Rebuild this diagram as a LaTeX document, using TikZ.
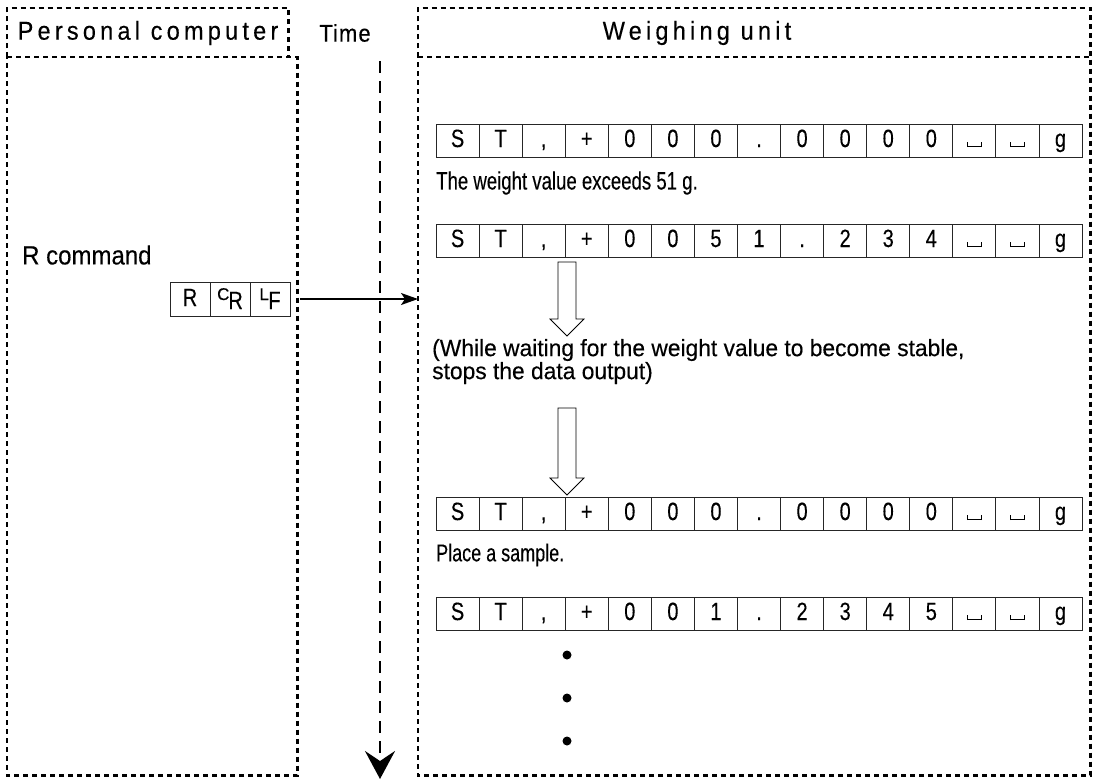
\documentclass[tikz,border=0pt]{standalone}
\usepackage{fontspec}
\setmainfont[FakeBold=0.3]{Liberation Sans}
\newfontfamily\hdrfont[LetterSpace=18,FakeBold=0.3]{Liberation Sans}
\newfontfamily\timefont[LetterSpace=5,FakeBold=0.3]{Liberation Sans}
\usetikzlibrary{arrows.meta}
\tikzset{
  frame/.style={line width=2.3pt, dash pattern=on 5pt off 4pt},
  area/.style={rectangle, inner sep=0pt, anchor=north west},
  cell/.style={draw=black!85, line width=0.9pt, rectangle, inner sep=0pt, minimum width=43.07pt, minimum height=33pt,
    text height=17pt, text depth=5pt, font=\fontsize{20}{20}\selectfont},
  ccell/.style={draw=black!85, line width=0.9pt, rectangle, inner sep=0pt, minimum width=40pt, minimum height=34pt,
    text height=17pt, text depth=3pt, font=\fontsize{20}{20}\selectfont},
  hdr/.style={inner sep=0pt, font=\hdrfont\fontsize{23.5}{24}\selectfont},
  txt/.style={inner sep=0pt, anchor=west, font=\fontsize{18.6}{22}\selectfont},
  timeaxis/.style={line width=2.5pt, dash pattern=on 12pt off 8pt},
  hollow/.style={draw=black, line width=0.8pt, fill=white},
  dot/.style={circle, fill=black, inner sep=0pt, minimum size=9pt},
}
\newcommand\tall[1]{\scalebox{1}[1.25]{#1}}
\newcommand\taller[1]{\scalebox{1}[1.35]{#1}}
\newcommand\spc{\rule{0.7pt}{4pt}\rule{13pt}{0.7pt}\rule{0.7pt}{4pt}}
\newcommand\cellrow[3]{%
  \foreach \c [count=\i] in {#3} {\node[cell] (#1c\i) at ({436+(\i-0.5)*43.07}, #2) {\tall{\c}};}}
\begin{document}
\begin{tikzpicture}[x=1pt, y=-1pt]
\useasboundingbox (0,0) rectangle (1097,780);
% frame areas (named) and their dashed borders
\node[area, minimum width=281pt, minimum height=49pt] (pchead) at (7,8) {};
\node[area, minimum width=290pt, minimum height=718pt] (pcbody) at (7,57) {};
\node[area, minimum width=672pt, minimum height=49pt] (wuhead) at (418,8) {};
\node[area, minimum width=672pt, minimum height=718pt] (wubody) at (418,57) {};
\draw[frame] (pchead.south west) -- (pchead.north west) -- (pchead.north east) -- (pchead.south east);
\draw[frame] (pcbody.north west) -- (pcbody.north east) -- (pcbody.south east) -- (pcbody.south west) -- cycle;
\draw[frame] (wuhead.south west) -- (wuhead.north west) -- (wuhead.north east) -- (wuhead.south east);
\draw[frame] (wubody.north west) -- (wubody.north east) -- (wubody.south east) -- (wubody.south west) -- cycle;
\node[hdr] (pctext) at (148,33) {\scalebox{1}[1.1]{Personal computer}};
\node[inner sep=0pt, font=\timefont\fontsize{22}{22}\selectfont] (timetext) at (345,33) {\scalebox{1}[1.1]{Time}};
\node[hdr] (wutext) at (697,33) {\scalebox{1}[1.1]{Weighing unit}};
% time axis
\coordinate (tstart) at (380,61);
\coordinate (tend) at (380,779);
\draw[timeaxis, -{Stealth[length=28pt, width=30pt, inset=10pt]}] (tstart) -- (tend);
% R command
\node[txt, font=\fontsize{24}{24}\selectfont] (rcmd) at (22,255) {\scalebox{1}[1.1]{R command}};
\node[ccell] (cr1) at (190,299) {\tall{R}};
\node[ccell] (cr2) at (230,299) {\raisebox{6pt}{\fontsize{17}{17}\selectfont C}\kern-1pt\raisebox{-3pt}{\tall{R}}};
\node[ccell] (cr3) at (270,299) {\raisebox{6pt}{\fontsize{17}{17}\selectfont L}\kern-0.5pt\raisebox{-3pt}{\tall{F}}};
\coordinate (astart) at (300,299);
\draw[line width=1.5pt, -{Stealth[length=17pt, width=12pt, inset=4pt]}] (astart) -- (astart -| wubody.west);
% rows
\cellrow{ra}{141}{S,T,{,},+,0,0,0,.,0,0,0,0,\spc,\spc,g}
\node[txt] (t1) at (436,183) {\taller{The weight value exceeds 51 g.}};
\cellrow{rb}{241}{S,T,{,},+,0,0,5,1,.,2,3,4,\spc,\spc,g}
\draw[hollow] (558,262) -- (576,262) -- (576,319) -- (584,319) -- (567,336) -- (550,319) -- (558,319) -- cycle;
\node[txt, font=\fontsize{20}{22}\selectfont] (t2a) at (432,350)
  {\scalebox{1.14}[1.18]{(While waiting for the weight value to become stable,}};
\node[txt, font=\fontsize{20}{22}\selectfont] (t2b) at (432,373)
  {\scalebox{1.14}[1.18]{stops the data output)}};
\draw[hollow] (558,408) -- (576,408) -- (576,478) -- (584,478) -- (567,495) -- (550,478) -- (558,478) -- cycle;
\cellrow{rc}{514}{S,T,{,},+,0,0,0,.,0,0,0,0,\spc,\spc,g}
\node[txt, font=\fontsize{18}{22}\selectfont] (t3) at (436,555) {\taller{Place a sample.}};
\cellrow{rd}{614}{S,T,{,},+,0,0,1,.,2,3,4,5,\spc,\spc,g}
\node[dot] (d1) at (567,655) {};
\node[dot] (d2) at (567,698) {};
\node[dot] (d3) at (567,741) {};
\end{tikzpicture}
\end{document}
